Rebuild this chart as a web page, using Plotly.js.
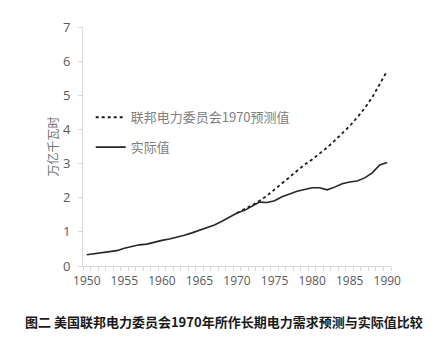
<!DOCTYPE html>
<html><head><meta charset="utf-8">
<script src="https://cdn.plot.ly/plotly-3.0.1.min.js"></script>
<style>html,body{margin:0;padding:0;background:#fff;}#chart{width:442px;height:352px;}</style>
</head><body><div id="chart"></div>
<script>
const actualYears = [1950,1951,1952,1953,1954,1955,1956,1957,1958,1959,1960,1961,1962,1963,1964,1965,1966,1967,1968,1969,1970,1971,1972,1973,1974,1975,1976,1977,1978,1979,1980,1981,1982,1983,1984,1985,1986,1987,1988,1989,1990];
const actualValues = [0.33,0.36,0.39,0.42,0.45,0.52,0.58,0.62,0.64,0.70,0.75,0.79,0.84,0.90,0.97,1.05,1.12,1.20,1.31,1.43,1.55,1.63,1.75,1.87,1.86,1.91,2.03,2.12,2.19,2.24,2.29,2.29,2.23,2.31,2.41,2.46,2.49,2.58,2.73,2.96,3.03];
const forecastYears = [1970,1971,1972,1973,1974,1975,1976,1977,1978,1979,1980,1981,1982,1983,1984,1985,1986,1987,1988,1989,1990];
const forecastValues = [1.55,1.66,1.78,1.91,2.06,2.24,2.42,2.60,2.80,2.97,3.12,3.29,3.47,3.67,3.88,4.10,4.35,4.62,4.94,5.34,5.72];
const xTickYears = [1950,1955,1960,1965,1970,1975,1980,1985,1990];
const yTicks = [0,1,2,3,4,5,6,7];
const forecastName = '联邦电力委员会1970预测值';
const actualName = '实际值';
const yTitle = '万亿千瓦时';
const caption = '图二 美国联邦电力委员会1970年所作长期电力需求预测与实际值比较';

const cjk = '"Noto Sans CJK SC", "Noto Sans", sans-serif';
const data = [
  {x: forecastYears, y: forecastValues, name: forecastName, type: 'scatter', mode: 'lines',
   legendgroup: 'a', line: {color: '#1a1a1a', width: 1.8, dash: 'dot'}},
  {x: actualYears, y: actualValues, name: actualName, type: 'scatter', mode: 'lines',
   legendgroup: 'b', line: {color: '#262626', width: 1.6}}
];
const layout = {
  width: 442, height: 352,
  margin: {l: 83, r: 51, t: 27, b: 86},
  paper_bgcolor: '#fff', plot_bgcolor: '#fff',
  showlegend: true,
  legend: {x: 0.025, y: 0.685, xanchor: 'left', yanchor: 'top', bgcolor: 'rgba(0,0,0,0)',
    font: {family: cjk, size: 13, color: '#808080'}, itemwidth: 30, tracegroupgap: 10,
    traceorder: 'grouped'},
  xaxis: {range: [1949.5, 1990.5], tickvals: xTickYears, ticks: '', showgrid: false, zeroline: false,
    showline: true, linecolor: '#d9d9d9', linewidth: 1, ticklabelstandoff: 4,
    tickfont: {family: '"Open Sans", sans-serif', size: 12, color: '#595959'},
    minor: {tick0: 1949.5, dtick: 1, ticks: 'outside', ticklen: 4, tickcolor: '#d9d9d9', showgrid: false}},
  yaxis: {range: [0, 7], tickvals: yTicks, ticks: 'outside', ticklen: 4, tickcolor: '#d9d9d9',
    showgrid: false, zeroline: false, showline: true, linecolor: '#d9d9d9', linewidth: 1,
    ticklabelstandoff: 5,
    tickfont: {family: '"Open Sans", sans-serif', size: 13, color: '#595959'},
    title: {text: yTitle, standoff: 1, font: {family: cjk, size: 12, color: '#707070'}}},
  annotations: [
    {text: caption, xref: 'paper', yref: 'paper', x: 0.458, y: -0.234, xanchor: 'center', yanchor: 'middle',
     showarrow: false, font: {family: cjk, size: 13, color: '#1a1a1a', weight: 'bold'}}
  ]
};
Plotly.newPlot('chart', data, layout, {displayModeBar: false, staticPlot: true});
</script></body></html>
